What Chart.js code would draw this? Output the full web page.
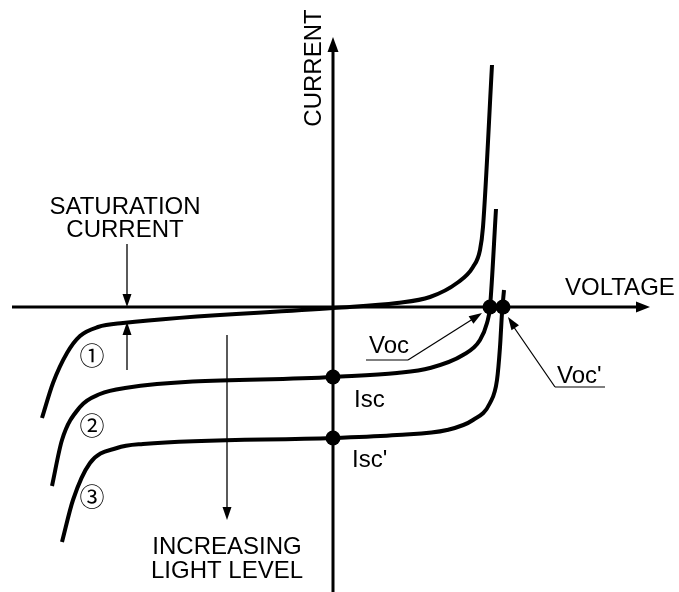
<!DOCTYPE html>
<html>
<head>
<meta charset="utf-8">
<script src="https://cdn.jsdelivr.net/npm/chart.js"></script>
<style>
  body { margin: 0; background: #fff; }
</style>
</head>
<body>
<canvas id="ivchart" width="679" height="592"></canvas>
<script>
// I-V curves of a photodiode (arbitrary units)
var curve1V = [-29.1, -28.0, -26.6, -25.3, -23.5, -21.0, 0, 6.4, 9.7, 12.4, 14.0, 14.7, 15.0, 15.9];
var curve1I = [-11.1, -7.6, -4.6, -2.9, -2.0, -1.6, -0.1, 0.4, 1.0, 2.4, 4.0, 5.7, 8.0, 24.2];

var curve2V = [-28.1, -27.1, -25.3, -23.3, -20.8, 0, 6.4, 9.7, 13.0, 14.7, 15.4, 15.7, 16.3];
var curve2I = [-17.9, -13.3, -10.0, -8.7, -8.1, -7.0, -6.6, -6.1, -4.8, -3.3, -1.6, 0, 9.8];

var curve3V = [-27.1, -26.0, -24.3, -21.6, -19.0, 0, 6.4, 11.4, 14.0, 15.7, 16.4, 16.7, 16.9, 17.1];
var curve3I = [-23.5, -19.3, -15.6, -14.1, -13.7, -13.1, -12.8, -12.3, -11.3, -9.6, -7.3, -4.0, -0.6, 1.7];

// marked points: Isc, Isc', Voc, Voc'
var markV = [0, 0, 15.7, 17.0];
var markI = [-7.0, -13.1, 0, 0];

function toPoints(vs, is) {
  var pts = [];
  for (var i in vs) {
    pts.push({x: vs[i], y: is[i]});
  }
  return pts;
}

function curve(vs, is) {
  return {
    data: toPoints(vs, is),
    showLine: true,
    borderColor: '#000',
    borderWidth: 4,
    pointRadius: 0,
    cubicInterpolationMode: 'monotone',
    fill: false
  };
}

var FONT = '"Liberation Sans", Arial, sans-serif';

function arrowHead(ctx, tx, ty, fx, fy, len, half) {
  var a = Math.atan2(ty - fy, tx - fx);
  ctx.beginPath();
  ctx.moveTo(tx, ty);
  ctx.lineTo(tx - len * Math.cos(a) + half * Math.sin(a), ty - len * Math.sin(a) - half * Math.cos(a));
  ctx.lineTo(tx - len * Math.cos(a) - half * Math.sin(a), ty - len * Math.sin(a) + half * Math.cos(a));
  ctx.closePath();
  ctx.fill();
}

function line(ctx, x1, y1, x2, y2, w) {
  ctx.lineWidth = w;
  ctx.beginPath();
  ctx.moveTo(x1, y1);
  ctx.lineTo(x2, y2);
  ctx.stroke();
}

var axesPlugin = {
  id: 'axesPlugin',
  beforeDatasetsDraw: function(chart) {
    var ctx = chart.ctx;
    var sx = chart.scales.x, sy = chart.scales.y;
    var x0 = sx.getPixelForValue(0), y0 = sy.getPixelForValue(0);
    ctx.save();
    ctx.strokeStyle = '#000';
    ctx.fillStyle = '#000';
    // voltage axis
    var xl = sx.getPixelForValue(-32.1), xr = sx.getPixelForValue(31.7);
    line(ctx, xl, y0, xr - 10, y0, 3);
    arrowHead(ctx, xr, y0, xl, y0, 14, 5.5);
    // current axis
    var yt = sy.getPixelForValue(27.0), yb = sy.getPixelForValue(-28.5);
    line(ctx, x0, yb, x0, yt + 10, 3);
    arrowHead(ctx, x0, yt, x0, yb, 15, 5.5);
    ctx.restore();
  },
  afterDatasetsDraw: function(chart) {
    var ctx = chart.ctx;
    var sx = chart.scales.x, sy = chart.scales.y;
    ctx.save();
    ctx.strokeStyle = '#000';
    ctx.fillStyle = '#000';

    // axis titles
    ctx.font = '24px ' + FONT;
    ctx.textBaseline = 'alphabetic';
    ctx.textAlign = 'left';
    ctx.fillText('VOLTAGE', 565, 295);
    ctx.save();
    ctx.translate(321, 68);
    ctx.rotate(-Math.PI / 2);
    ctx.textAlign = 'center';
    ctx.fillText('CURRENT', 0, 0);
    ctx.restore();

    // saturation current
    ctx.textAlign = 'center';
    ctx.fillText('SATURATION', 125, 214);
    ctx.fillText('CURRENT', 125, 237);
    line(ctx, 127, 244, 127, 296, 1.3);
    arrowHead(ctx, 127, 307, 127, 244, 13, 4.5);
    line(ctx, 127, 370, 127, 333, 1.3);
    arrowHead(ctx, 127, 322, 127, 370, 13, 4.5);

    // increasing light level
    line(ctx, 227, 335, 227, 510, 1.3);
    arrowHead(ctx, 227, 520, 227, 335, 13, 4.5);
    ctx.fillText('INCREASING', 227, 554);
    ctx.fillText('LIGHT LEVEL', 227, 578);

    // curve numbers
    ctx.font = '25px "Noto Sans CJK JP", "DejaVu Sans", sans-serif';
    ctx.textBaseline = 'middle';
    ctx.fillText('\u2460', 92, 355);
    ctx.fillText('\u2461', 92, 425);
    ctx.fillText('\u2462', 92, 496);

    // Isc labels
    ctx.font = '24px ' + FONT;
    ctx.textBaseline = 'alphabetic';
    ctx.textAlign = 'left';
    ctx.fillText('Isc', 354, 407);
    ctx.fillText('Isc\'', 352, 467);

    // Voc leaders
    var vocX = sx.getPixelForValue(markV[2]), vocY = sy.getPixelForValue(markI[2]);
    var voc2X = sx.getPixelForValue(markV[3]), voc2Y = sy.getPixelForValue(markI[3]);
    ctx.fillText('Voc', 369, 353);
    line(ctx, 366, 360, 408, 360, 1.2);
    line(ctx, 408, 360, vocX - 14, vocY + 10, 1.2);
    arrowHead(ctx, vocX - 8, vocY + 6, 408, 360, 13, 4.5);

    ctx.fillText('Voc\'', 557, 383);
    line(ctx, 555, 387, 605, 387, 1.2);
    line(ctx, 555, 387, voc2X + 8, voc2Y + 16, 1.2);
    arrowHead(ctx, voc2X + 5, voc2Y + 10, 555, 387, 13, 4.5);

    ctx.restore();
  }
};

var dots = {
  data: toPoints(markV, markI),
  showLine: false,
  pointRadius: 7.5,
  pointBackgroundColor: '#000',
  pointBorderWidth: 0
};

var ctx = document.getElementById('ivchart');
var ivChart = new Chart(ctx, {
  type: 'scatter',
  data: {
    datasets: [curve(curve1V, curve1I), curve(curve2V, curve2I), curve(curve3V, curve3I), dots]
  },
  options: {
    responsive: false,
    animation: false,
    devicePixelRatio: 1,
    layout: { padding: 0, autoPadding: false },
    plugins: {
      legend: { display: false },
      tooltip: { enabled: false }
    },
    scales: {
      x: { type: 'linear', min: -33.3, max: 34.6, display: false },
      y: { type: 'linear', min: -28.5, max: 30.7, display: false }
    }
  },
  plugins: [axesPlugin]
});
</script>
</body>
</html>
